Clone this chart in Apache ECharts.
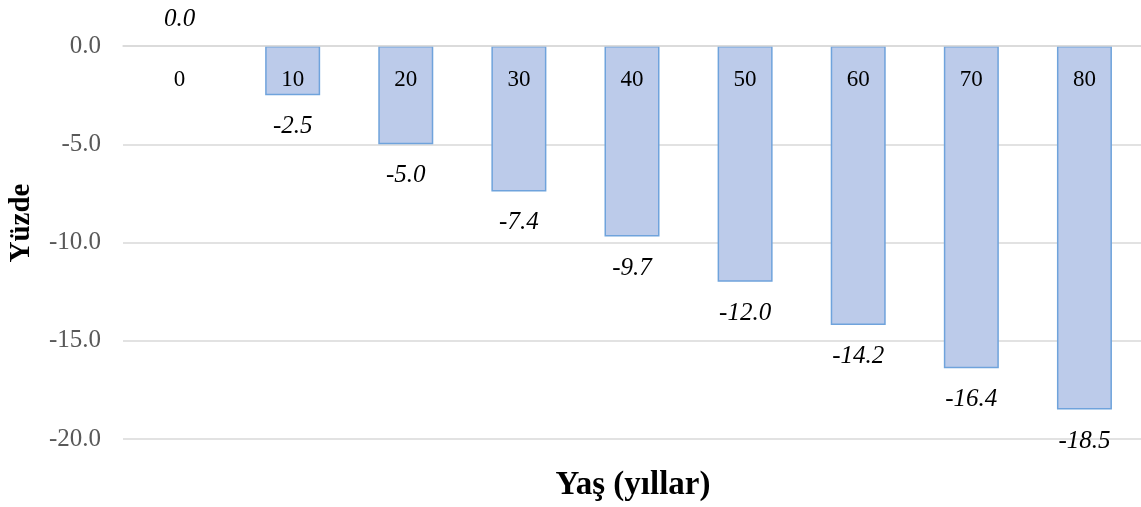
<!DOCTYPE html>
<html>
<head>
<meta charset="utf-8">
<script src="https://cdn.jsdelivr.net/npm/echarts@6/dist/echarts.min.js"></script>
<style>
  html, body { margin: 0; padding: 0; background: #fff; }
  #main { width: 1141px; height: 507px; }
</style>
</head>
<body>
<div id="main"></div>
<script>
// yaş grupları ve yüzde değişim
const ages = ['0', '10', '20', '30', '40', '50', '60', '70', '80'];
const values = [0.0, -2.5, -5.0, -7.4, -9.7, -12.0, -14.2, -16.4, -18.5];
const yTicks = [0, -5, -10, -15, -20];

const serif = '"Liberation Serif", "Times New Roman", serif';

var myChart = echarts.init(document.getElementById('main'));

// sıfır değerli çubuk: etiket üstte, kenarlık yok
var barData = values.map(function (v) {
    var item = { value: v };
    if (v === 0) {
        item.label = { position: 'top', distance: 14 };
        item.itemStyle = { borderWidth: 0 };
    }
    return item;
});

option = {
    animation: false,
    grid: { left: 123, right: 0, top: 46, bottom: 68 },
    xAxis: {
        type: 'category',
        position: 'top',
        data: ages,
        axisLine: { show: true, lineStyle: { color: '#d9d9d9', width: 1.5 } },
        axisTick: { show: false },
        axisLabel: {
            inside: true,
            margin: 22,
            color: '#000',
            fontFamily: serif,
            fontSize: 23
        },
        z: 5
    },
    yAxis: {
        type: 'value',
        min: yTicks[yTicks.length - 1],
        max: yTicks[0],
        interval: 5,
        axisLine: { show: false },
        axisTick: { show: false },
        splitLine: { lineStyle: { color: '#d9d9d9', width: 1.5 } },
        axisLabel: {
            margin: 22,
            color: '#595959',
            fontFamily: serif,
            fontSize: 25,
            formatter: function (v) { return v.toFixed(1); }
        }
    },
    graphic: [
        {
            type: 'text',
            x: 22, y: 223,
            rotation: Math.PI / 2,
            style: {
                text: 'Yüzde',
                font: 'bold 29px ' + serif,
                fill: '#000',
                align: 'center',
                verticalAlign: 'middle'
            }
        },
        {
            type: 'text',
            x: 633, y: 485,
            style: {
                text: 'Yaş (yıllar)',
                font: 'bold 33px ' + serif,
                fill: '#000',
                align: 'center',
                verticalAlign: 'middle'
            }
        }
    ],
    series: [
        {
            type: 'bar',
            data: barData,
            barWidth: 55,
            itemStyle: {
                color: '#bccbea',
                borderColor: '#6fa3dc',
                borderWidth: 1.5
            },
            label: {
                show: true,
                position: 'bottom',
                distance: 19,
                color: '#000',
                fontFamily: serif,
                fontStyle: 'italic',
                fontSize: 25,
                formatter: function (p) { return p.value.toFixed(1); }
            }
        }
    ]
};
option && myChart.setOption(option);
</script>
</body>
</html>
